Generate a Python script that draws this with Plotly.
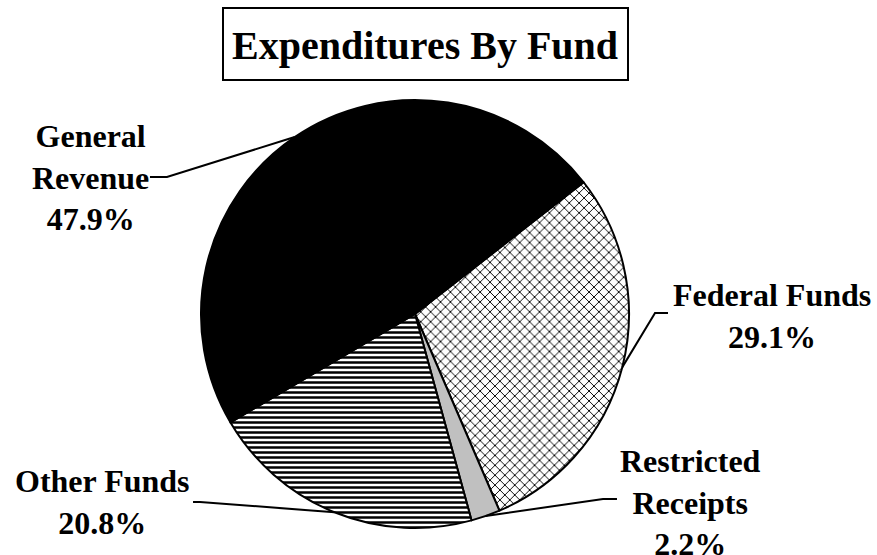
import math
import plotly.graph_objects as go

W, H = 877, 555

# slices in drawing order (clockwise from the top-right edge of General Revenue)
funds = ["Federal Funds", "Restricted Receipts", "Other Funds", "General Revenue"]
shares = [29.1, 2.2, 20.8, 47.9]
label_names = ["Federal Funds", "Restricted<br>Receipts", "Other Funds", "General<br>Revenue"]

colors = ["white", "#c0c0c0", "white", "black"]
pattern_shapes = ["x", "", "-", ""]

# pie placement in pixels
cx, cy, r = 415, 314, 214
rotation = 52

# label centres and leader-line elbows (pixels)
label_pos = [(772, 316), (690, 502), (102, 502), (90, 177)]
elbows = [
    [(668, 313), (655, 313)],
    [(617, 499), (603, 499)],
    [(193, 502), (200, 502)],
    [(150, 177), (167, 177)],
]
FONT = "Liberation Serif"


def paper(x, y):
    return x / W, 1 - y / H


fig = go.Figure(go.Pie(
    labels=funds,
    values=shares,
    sort=False,
    direction="clockwise",
    rotation=rotation,
    textinfo="none",
    showlegend=False,
    marker=dict(
        colors=colors,
        line=dict(color="black", width=2),
        pattern=dict(
            shape=pattern_shapes,
            fgcolor="black",
            bgcolor=colors,
            size=[7, 8, 5, 8],
            solidity=[0.25, 0.3, 0.5, 0.3],
            fillmode="replace",
        ),
    ),
    domain=dict(x=[(cx - r) / W, (cx + r) / W], y=[1 - (cy + r) / H, 1 - (cy - r) / H]),
))

total = sum(shares)
cum = 0
shapes = []
for i, v in enumerate(shares):
    mid = math.radians(rotation + 360 * (cum + v / 2) / total)
    cum += v
    ex, ey = cx + r * math.sin(mid), cy - r * math.cos(mid)
    pts = elbows[i] + [(ex, ey)]
    path = "M " + " L ".join("%.4f %.4f" % paper(x, y) for x, y in pts)
    shapes.append(dict(type="path", path=path, xref="paper", yref="paper",
                       line=dict(color="black", width=2)))
    lx, ly = paper(*label_pos[i])
    fig.add_annotation(x=lx, y=ly, xref="paper", yref="paper", showarrow=False,
                       xanchor="center", yanchor="middle", align="center",
                       text="<b>%s<br>%.1f%%</b>" % (label_names[i], v),
                       font=dict(family=FONT, size=32, color="black"))

# title box
bx0, by0 = paper(223, 8)
bx1, by1 = paper(628, 80)
shapes.append(dict(type="rect", xref="paper", yref="paper", x0=bx0, y0=by1, x1=bx1, y1=by0,
                   line=dict(color="black", width=2), fillcolor="white"))
tx, ty = paper(425, 45)
fig.add_annotation(x=tx, y=ty, xref="paper", yref="paper", showarrow=False,
                   xanchor="center", yanchor="middle",
                   text="<b>Expenditures By Fund</b>",
                   font=dict(family=FONT, size=40, color="black"))

fig.update_layout(
    width=W, height=H,
    margin=dict(l=0, r=0, t=0, b=0),
    paper_bgcolor="white",
    plot_bgcolor="white",
    shapes=shapes,
)

# page body has an 8px default margin; drop it so the figure sits at 0,0
fig.write_html("out.html", config={"displayModeBar": False},
               post_script="document.body.style.margin='0px';")
